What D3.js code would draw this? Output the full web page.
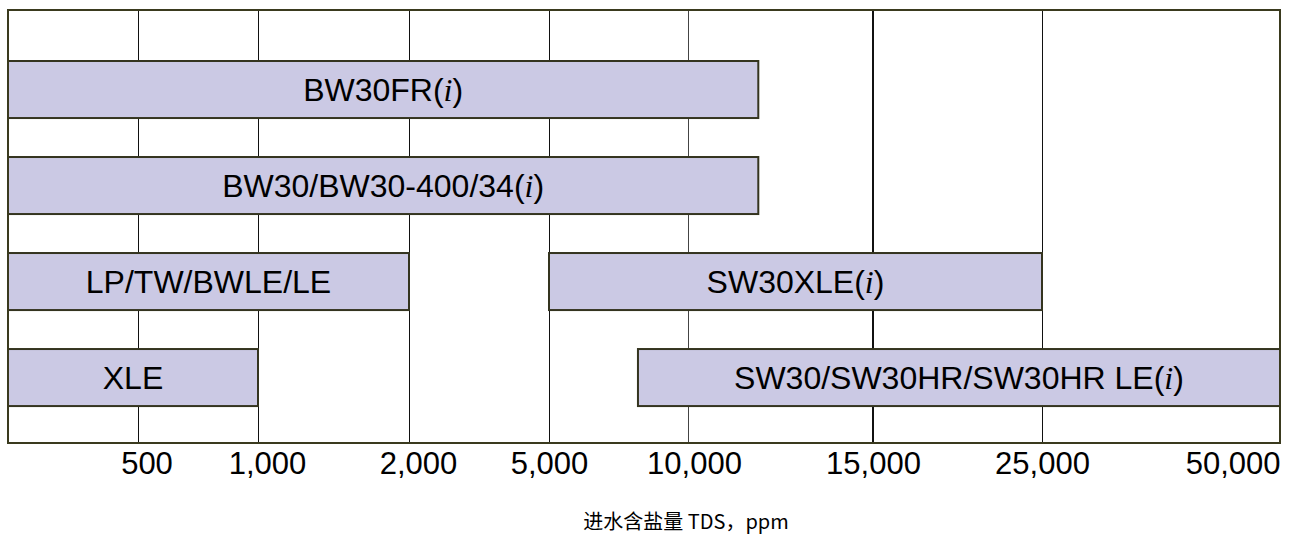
<!DOCTYPE html>
<html>
<head>
<meta charset="utf-8">
<script src="https://cdn.jsdelivr.net/npm/d3@7"></script>
<style>
  html, body { margin: 0; padding: 0; background: #fff; }
  svg { display: block; }
</style>
</head>
<body>
<svg id="chart" width="1296" height="536"></svg>
<script>
// ---- data ----
const rows = ["r1", "r2", "r3", "r4"];
const products = ["BW30FR", "BW30/BW30-400/34", "LP/TW/BWLE/LE", "SW30XLE", "XLE", "SW30/SW30HR/SW30HR LE"];
const hasMark = [true, true, false, true, false, true];
const productRow = ["r1", "r2", "r3", "r3", "r4", "r4"];
const startTDS = [0, 0, 0, 5000, 0, 8200];
const endTDS = [11900, 11900, 2000, 25000, 1000, 50000];
const tickValues = [500, 1000, 2000, 5000, 10000, 15000, 25000, 50000];
const axisTitle = "进水含盐量 TDS，ppm";

// ---- layout ----
const svg = d3.select("#chart");
const pLeft = 8, pRight = 1280, pTop = 10, pBottom = 443;
const W = pRight - pLeft;
// relative positions of the (non-uniform) tick marks along the axis
const tickFrac = [0, 129.5, 250, 401, 541, 680, 865, 1034, 1272].map(v => v / 1272);

const x = d3.scaleLinear()
  .domain([0].concat(tickValues))
  .range(tickFrac.map(f => pLeft + f * W));

const y = d3.scaleBand()
  .domain(rows)
  .range([pTop, pBottom])
  .paddingInner(0.406)
  .paddingOuter(0.458)
  .align(0.58);

const fontSans = "Arial, 'Liberation Sans', sans-serif";
const crisp = v => Math.round(v) + 0.5;

// gridlines (behind bars)
const gridWidth = d => d === 15000 ? 2 : 1;
const gridColor = d => d === 10000 ? "#444" : "#111";
svg.append("g")
  .selectAll("line")
  .data(tickValues.filter(d => d < 50000))
  .join("line")
  .attr("x1", d => d === 15000 ? Math.round(x(d)) : crisp(x(d)))
  .attr("x2", d => d === 15000 ? Math.round(x(d)) : crisp(x(d)))
  .attr("y1", pTop).attr("y2", pBottom)
  .attr("stroke", gridColor)
  .attr("stroke-width", gridWidth);

// bars
const items = products.map((p, i) => ({p, mark: hasMark[i], row: productRow[i], s: startTDS[i], e: endTDS[i]}));
svg.append("g")
  .selectAll("rect")
  .data(items)
  .join("rect")
  .attr("x", d => x(d.s))
  .attr("y", d => y(d.row))
  .attr("width", d => x(d.e) - x(d.s))
  .attr("height", y.bandwidth())
  .attr("fill", "#cbc9e4")
  .attr("stroke", "#34341f")
  .attr("stroke-width", 2);

// bar labels
const lbl = svg.append("g")
  .selectAll("text")
  .data(items)
  .join("text")
  .attr("x", d => (x(d.s) + x(d.e)) / 2)
  .attr("y", d => y(d.row) + y.bandwidth() / 2)
  .attr("dy", "0.36em")
  .attr("text-anchor", "middle")
  .attr("font-family", fontSans)
  .attr("font-size", 32)
  .attr("fill", "#000");
lbl.append("tspan").text(d => d.p + (d.mark ? "(" : ""));
lbl.filter(d => d.mark).append("tspan")
  .attr("font-family", "'Liberation Serif', 'DejaVu Serif', serif")
  .attr("font-style", "italic")
  .text("i");
lbl.filter(d => d.mark).append("tspan").text(")");

// frame
svg.append("rect")
  .attr("x", pLeft).attr("y", pTop)
  .attr("width", W).attr("height", pBottom - pTop)
  .attr("fill", "none")
  .attr("stroke", "#3a3a1e")
  .attr("stroke-width", 2);

// axis
const axis = d3.axisBottom(x)
  .tickValues(tickValues)
  .tickSize(0)
  .tickPadding(9)
  .tickFormat(d3.format(","));
const ax = svg.append("g")
  .attr("transform", `translate(0,${pBottom})`)
  .call(axis);
ax.select(".domain").remove();
ax.selectAll("text")
  .attr("font-family", fontSans)
  .attr("font-size", 31)
  .attr("fill", "#000")
  .attr("dx", d => d < 5000 ? 9 : (d === 10000 ? 6 : 0))
  .attr("text-anchor", d => d === 50000 ? "end" : "middle");

// axis title
svg.append("text")
  .attr("x", 686)
  .attr("y", 529)
  .attr("text-anchor", "middle")
  .attr("font-family", "'Noto Sans CJK SC', " + fontSans)
  .attr("font-size", 20)
  .attr("fill", "#000")
  .text(axisTitle);
</script>
</body>
</html>
